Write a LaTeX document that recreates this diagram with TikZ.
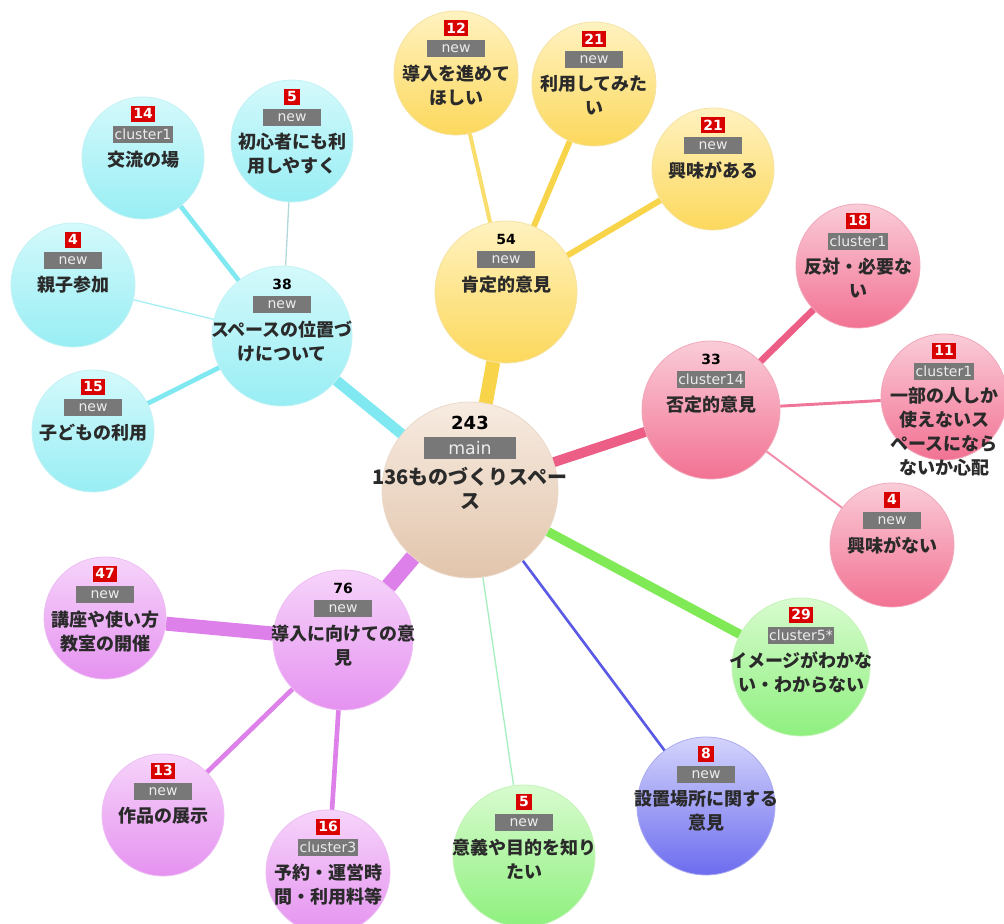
\documentclass[tikz,border=0pt]{standalone}
\usepackage{fontspec}
\setmainfont{DejaVu Sans}
\newfontfamily\jpfont{Noto Sans CJK JP}
\usetikzlibrary{positioning}

% bubble colours: A light, B dark, C rim, E edge
\definecolor{yelA}{HTML}{FFF2C0}\definecolor{yelB}{HTML}{FCD85C}\definecolor{yelC}{HTML}{F5E3A4}\definecolor{yelE}{HTML}{F7D449}
\definecolor{pnkA}{HTML}{FACCD8}\definecolor{pnkB}{HTML}{F27293}\definecolor{pnkC}{HTML}{F0A8BA}\definecolor{pnkE}{HTML}{EC5E86}
\definecolor{cyaA}{HTML}{D4F9FB}\definecolor{cyaB}{HTML}{98EEF4}\definecolor{cyaC}{HTML}{C4F2F5}\definecolor{cyaE}{HTML}{80E8F0}
\definecolor{vioA}{HTML}{F6D4FA}\definecolor{vioB}{HTML}{E592F0}\definecolor{vioC}{HTML}{EDBDF3}\definecolor{vioE}{HTML}{DE80EA}
\definecolor{grnA}{HTML}{D8FBCF}\definecolor{grnB}{HTML}{8EF07E}\definecolor{grnC}{HTML}{C6F3BA}\definecolor{grnE}{HTML}{80EA56}
\definecolor{bluA}{HTML}{D4D4FC}\definecolor{bluB}{HTML}{6C6CEF}\definecolor{bluC}{HTML}{AAAAF0}\definecolor{bluE}{HTML}{5A5AE4}
\definecolor{manA}{HTML}{F7EBE1}\definecolor{manB}{HTML}{E2C5AC}\definecolor{manC}{HTML}{EBD9C9}
\definecolor{cntred}{HTML}{D90000}
\definecolor{taggray}{HTML}{787878}
\definecolor{tagtext}{HTML}{ECECEC}
\definecolor{captext}{HTML}{2A2A2A}

\tikzset{
  bubble/.style={circle, inner sep=0pt, line width=0.6pt, minimum size=#1*1.5pt},
  yel/.style={bubble=#1, top color=yelA, bottom color=yelB, draw=yelC},
  pnk/.style={bubble=#1, top color=pnkA, bottom color=pnkB, draw=pnkC},
  cya/.style={bubble=#1, top color=cyaA, bottom color=cyaB, draw=cyaC},
  vio/.style={bubble=#1, top color=vioA, bottom color=vioB, draw=vioC},
  grn/.style={bubble=#1, top color=grnA, bottom color=grnB, draw=grnC},
  blu/.style={bubble=#1, top color=bluA, bottom color=bluB, draw=bluC},
  man/.style={bubble=#1, top color=manA, bottom color=manB, draw=manC},
  countbox/.style={fill=cntred, text=white, font=\fontsize{10.5}{10.5}\bfseries,
    inner xsep=2pt, inner ysep=0pt, minimum height=11.5pt},
  hubcount/.style={text=black, font=\fontsize{10.5}{10.5}\bfseries, inner sep=0pt},
  tagbox/.style={fill=taggray, text=tagtext, font=\fontsize{10.5}{10.5}\selectfont,
    inner xsep=1pt, inner ysep=0pt, minimum width=44pt, minimum height=12.5pt},
  caption/.style={text=captext, align=center, inner sep=0pt,
    font=\jpfont\bfseries\fontsize{13.5}{18}\selectfont},
}

% texts inside a bubble: count, tag, caption
\newcommand{\leafinfo}[4]{%
  \node[countbox, below=7pt of #1.north] (#1-n) {#2};
  \node[tagbox, below=3pt of #1-n] (#1-t) {#3};
  \node[caption, below=5.5pt of #1-t] (#1-x) {#4};
}
\newcommand{\hubinfo}[4]{%
  \node[hubcount, below=10pt of #1.north] (#1-n) {#2};
  \node[tagbox, below=4.5pt of #1-n] (#1-t) {#3};
  \node[caption, below=5.5pt of #1-t] (#1-x) {#4};
}

\begin{document}
\begin{tikzpicture}[x=0.75pt, y=-0.75pt]
    \useasboundingbox (0,0) rectangle (1004,924);
    \begin{scope}
        \node[man=88] (main) at (470,490) {};
        \node[yel=71] (pos) at (506,292) {};
        \node[yel=62] (p1) at (456,73) {};
        \node[yel=62] (p2) at (594,84) {};
        \node[yel=61] (p3) at (713,169) {};
        \node[pnk=69] (neg) at (711,410) {};
        \node[pnk=62] (n1) at (858,266) {};
        \node[pnk=63] (n2) at (944,397) {};
        \node[pnk=62] (n3) at (892,545) {};
        \node[grn=69] (img) at (801,667) {};
        \node[blu=69] (loc) at (706,806) {};
        \node[grn=71] (mean) at (524,856) {};
        \node[vio=70] (intro) at (343,640) {};
        \node[vio=61] (i1) at (105,618) {};
        \node[vio=61] (i2) at (163,815) {};
        \node[vio=62] (i3) at (328,872) {};
        \node[cya=70] (spc) at (282,336) {};
        \node[cya=61] (s1) at (143,158) {};
        \node[cya=61] (s2) at (292,141) {};
        \node[cya=62] (s3) at (73,285) {};
        \node[cya=61] (s4) at (93,431) {};
    \end{scope}
    \begin{scope}
        \tikzstyle{every edge}=[draw, line cap=butt]
        \path
        (main) edge[draw=yelE, line width=10.5pt] (pos)
        (main) edge[draw=pnkE, line width=7.5pt] (neg)
        (main) edge[draw=cyaE, line width=8pt] (spc)
        (main) edge[draw=vioE, line width=12pt] (intro)
        (main) edge[draw=grnE, line width=7pt] (img)
        (main) edge[draw=bluE, line width=2pt] (loc)
        (main) edge[draw=grnE!50!cyaE!70, line width=1pt] (mean)
        (pos) edge[draw=yelE!80, line width=3pt] (p1)
        (pos) edge[draw=yelE, line width=4.5pt] (p2)
        (pos) edge[draw=yelE, line width=4.5pt] (p3)
        (neg) edge[draw=pnkE, line width=5pt] (n1)
        (neg) edge[draw=pnkE!85, line width=2.2pt] (n2)
        (neg) edge[draw=pnkE!70, line width=1.5pt] (n3)
        (intro) edge[draw=vioE, line width=10.5pt] (i1)
        (intro) edge[draw=vioE, line width=3.5pt] (i2)
        (intro) edge[draw=vioE, line width=3.5pt] (i3)
        (spc) edge[draw=cyaE, line width=3.5pt] (s1)
        (spc) edge[draw=cyaE!60!gray!60, line width=1pt] (s2)
        (spc) edge[draw=cyaE!70, line width=1pt] (s3)
        (spc) edge[draw=cyaE, line width=3.5pt] (s4);
    \end{scope}
    \begin{scope}
        % main bubble
        \node[hubcount, font=\fontsize{13.5}{13.5}\bfseries, below=11pt of main.north] (main-n) {243};
        \node[tagbox, minimum width=69pt, minimum height=16.5pt, font=\fontsize{13}{13}\selectfont,
          below=4.5pt of main-n] (main-t) {main};
        \node[caption, font=\jpfont\bfseries\fontsize{15}{18}\selectfont, below=6pt of main-t] (main-x) {136ものづくりスペー\\ス};
        % hubs
        \hubinfo{pos}{54}{new}{肯定的意見}
        \hubinfo{neg}{33}{cluster14}{否定的意見}
        \hubinfo{spc}{38}{new}{スペースの位置づ\\けについて}
        \hubinfo{intro}{76}{new}{導入に向けての意\\見}
        % leaves
        \leafinfo{p1}{12}{new}{導入を進めて\\ほしい}
        \leafinfo{p2}{21}{new}{利用してみた\\い}
        \leafinfo{p3}{21}{new}{興味がある}
        \leafinfo{n1}{18}{cluster1}{反対・必要な\\い}
        \leafinfo{n2}{11}{cluster1}{一部の人しか\\使えないス\\ペースになら\\ないか心配}
        \leafinfo{n3}{4}{new}{興味がない}
        \leafinfo{img}{29}{cluster5*}{イメージがわかな\\い・わからない}
        \leafinfo{loc}{8}{new}{設置場所に関する\\意見}
        \leafinfo{mean}{5}{new}{意義や目的を知り\\たい}
        \leafinfo{i1}{47}{new}{講座や使い方\\教室の開催}
        \leafinfo{i2}{13}{new}{作品の展示}
        \leafinfo{i3}{16}{cluster3}{予約・運営時\\間・利用料等}
        \leafinfo{s1}{14}{cluster1}{交流の場}
        \leafinfo{s2}{5}{new}{初心者にも利\\用しやすく}
        \leafinfo{s3}{4}{new}{親子参加}
        \leafinfo{s4}{15}{new}{子どもの利用}
    \end{scope}
\end{tikzpicture}
\end{document}
